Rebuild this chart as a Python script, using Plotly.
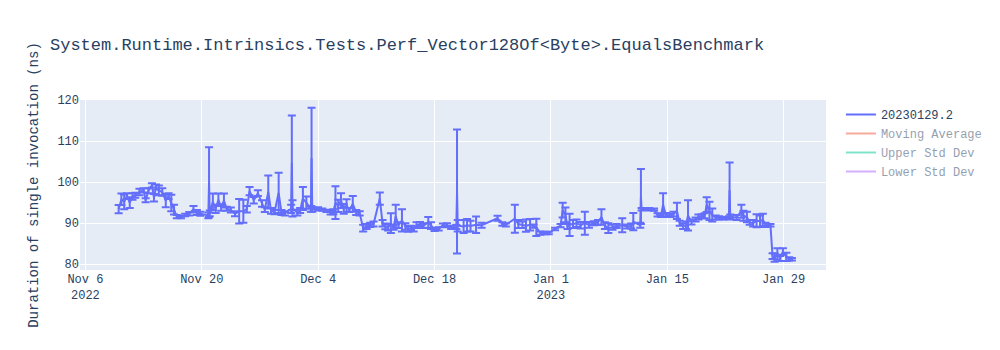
import pandas as pd
import plotly.graph_objects as go

# Benchmark runs: timestamp, mean duration (ns), standard deviation (ns)
run_dates = [
    "2022-11-10 00:00", "2022-11-10 08:00", "2022-11-10 16:00",
    "2022-11-11 00:00", "2022-11-11 08:00", "2022-11-11 16:00",
    "2022-11-12 00:00", "2022-11-12 12:00",
    "2022-11-13 00:00", "2022-11-13 06:00", "2022-11-13 14:00",
    "2022-11-14 00:00", "2022-11-14 06:00", "2022-11-14 12:00", "2022-11-14 20:00",
    "2022-11-15 06:00", "2022-11-15 16:00",
    "2022-11-16 00:00", "2022-11-16 08:00", "2022-11-16 16:00",
    "2022-11-17 00:00", "2022-11-17 12:00",
    "2022-11-18 00:00", "2022-11-18 12:00",
    "2022-11-19 00:00", "2022-11-19 10:00", "2022-11-19 20:00",
    "2022-11-20 19:00", "2022-11-20 21:00",
    "2022-11-20 23:00", "2022-11-21 08:00", "2022-11-21 16:00",
    "2022-11-22 00:00", "2022-11-22 08:00", "2022-11-22 16:00",
    "2022-11-23 00:00", "2022-11-23 12:00",
    "2022-11-24 00:00", "2022-11-24 12:00",
    "2022-11-25 00:00", "2022-11-25 10:00", "2022-11-25 18:00",
    "2022-11-26 06:00", "2022-11-26 18:00",
    "2022-11-27 06:00", "2022-11-27 14:00",
    "2022-11-28 00:00", "2022-11-28 08:00", "2022-11-28 18:00",
    "2022-11-29 06:00", "2022-11-29 14:00",
    "2022-11-30 00:00", "2022-11-30 18:00", "2022-11-30 20:00",
    "2022-11-30 22:00", "2022-12-01 12:00", "2022-12-01 20:00",
    "2022-12-02 04:00", "2022-12-02 14:00", "2022-12-03 03:00",
    "2022-12-03 05:00", "2022-12-03 07:00",
    "2022-12-04 00:00", "2022-12-04 12:00",
    "2022-12-05 00:00", "2022-12-05 12:00", "2022-12-05 20:00",
    "2022-12-06 02:00", "2022-12-06 10:00", "2022-12-06 18:00",
    "2022-12-07 02:00", "2022-12-07 10:00", "2022-12-07 18:00",
    "2022-12-08 04:00", "2022-12-08 14:00",
    "2022-12-09 00:00", "2022-12-09 10:00", "2022-12-09 20:00",
    "2022-12-10 06:00", "2022-12-10 16:00",
    "2022-12-11 10:00", "2022-12-11 18:00",
    "2022-12-12 02:00", "2022-12-12 10:00", "2022-12-12 18:00",
    "2022-12-13 02:00", "2022-12-13 08:00", "2022-12-13 16:00",
    "2022-12-14 02:00", "2022-12-14 12:00", "2022-12-14 20:00",
    "2022-12-15 04:00", "2022-12-15 12:00", "2022-12-15 20:00",
    "2022-12-16 06:00", "2022-12-16 16:00",
    "2022-12-17 06:00", "2022-12-17 14:00",
    "2022-12-18 00:00", "2022-12-18 12:00",
    "2022-12-19 00:00", "2022-12-19 12:00",
    "2022-12-20 00:00", "2022-12-20 15:00", "2022-12-20 17:00",
    "2022-12-20 19:00", "2022-12-21 12:00", "2022-12-21 22:00",
    "2022-12-22 08:00",
    "2022-12-23 00:00", "2022-12-23 16:00",
    "2022-12-25 14:00",
    "2022-12-26 04:00", "2022-12-26 14:00",
    "2022-12-27 16:00",
    "2022-12-28 02:00", "2022-12-28 14:00",
    "2022-12-29 00:00", "2022-12-29 12:00", "2022-12-29 22:00",
    "2022-12-30 06:00", "2022-12-30 18:00",
    "2022-12-31 08:00", "2022-12-31 18:00",
    "2023-01-01 12:00",
    "2023-01-02 04:00", "2023-01-02 10:00", "2023-01-02 18:00",
    "2023-01-03 00:00", "2023-01-03 06:00", "2023-01-03 16:00",
    "2023-01-04 02:00", "2023-01-04 14:00",
    "2023-01-05 02:00", "2023-01-05 14:00",
    "2023-01-06 04:00", "2023-01-06 16:00",
    "2023-01-07 02:00", "2023-01-07 12:00", "2023-01-07 22:00",
    "2023-01-08 10:00", "2023-01-08 22:00",
    "2023-01-09 14:00",
    "2023-01-10 04:00", "2023-01-10 16:00", "2023-01-10 22:00",
    "2023-01-11 18:00", "2023-01-11 20:00",
    "2023-01-11 22:00", "2023-01-12 20:00",
    "2023-01-13 10:00", "2023-01-13 20:00",
    "2023-01-14 06:00", "2023-01-14 12:00", "2023-01-14 20:00",
    "2023-01-15 08:00", "2023-01-15 18:00",
    "2023-01-16 04:00", "2023-01-16 12:00", "2023-01-16 22:00",
    "2023-01-17 06:00", "2023-01-17 12:00", "2023-01-17 22:00",
    "2023-01-18 10:00", "2023-01-18 18:00",
    "2023-01-19 04:00", "2023-01-19 12:00", "2023-01-19 18:00",
    "2023-01-20 02:00", "2023-01-20 10:00", "2023-01-20 20:00",
    "2023-01-21 06:00", "2023-01-21 18:00",
    "2023-01-22 10:00", "2023-01-22 12:00", "2023-01-22 14:00",
    "2023-01-23 08:00", "2023-01-23 22:00",
    "2023-01-24 04:00", "2023-01-24 14:00", "2023-01-24 22:00",
    "2023-01-25 08:00", "2023-01-25 18:00",
    "2023-01-26 04:00", "2023-01-26 12:00", "2023-01-26 20:00",
    "2023-01-27 10:00", "2023-01-27 16:00", "2023-01-27 22:00",
    "2023-01-28 06:00", "2023-01-28 14:00", "2023-01-28 22:00",
    "2023-01-29 08:00", "2023-01-29 16:00",
    "2023-01-30 00:00",
]

mean_ns = [
    93.4, 95.8, 95.2,
    96.6, 95.0, 96.5,
    96.8, 97.6,
    98.0, 95.6, 97.9,
    99.2, 96.2, 98.8, 98.0,
    97.6, 95.5,
    96.6, 94.9, 93.3,
    91.6, 91.5,
    92.0, 92.3,
    93.4, 92.6, 92.3,
    91.9, 100.0,
    92.4, 95.2, 93.5,
    95.7, 93.8, 95.5,
    93.5, 93.2,
    92.3, 92.9,
    92.9, 93.4, 97.8,
    95.6, 97.3,
    94.8, 93.3,
    97.6, 93.0, 92.7,
    97.4, 92.6,
    92.4, 93.5, 104.7,
    93.6, 92.6, 93.1,
    96.0, 95.0, 93.5,
    105.9, 93.4,
    93.5, 93.3,
    93.0, 92.6, 92.8,
    95.0, 94.2, 95.5,
    93.5, 94.3, 93.2,
    94.7, 92.6,
    92.4, 88.8, 89.2,
    89.6, 89.8,
    96.0, 90.0,
    89.2, 89.0, 90.0,
    89.0, 91.7, 89.5,
    90.7, 89.2, 88.6,
    88.8, 88.5, 89.5,
    89.8, 89.4,
    90.2, 89.4,
    88.5, 88.6,
    89.5, 89.5,
    89.0, 89.1, 97.7,
    89.4, 89.2, 89.5,
    89.3,
    89.6, 89.5,
    91.2,
    89.8, 89.6,
    91.1,
    89.8, 89.6,
    89.4, 89.6, 89.3,
    89.0, 87.6,
    87.6, 87.6,
    88.6,
    89.4, 93.2, 92.0,
    89.2, 89.6, 89.8,
    90.0, 89.5,
    90.0, 89.6,
    90.0, 90.2,
    91.5, 89.4, 88.8,
    89.0, 89.3,
    89.5,
    89.2, 89.3, 90.4,
    89.5, 96.5,
    93.4, 93.4,
    93.3, 92.0,
    91.9, 94.5, 92.0,
    91.9, 92.2,
    93.0, 90.0, 89.3,
    89.5, 91.9, 90.3,
    90.9, 91.5,
    91.7, 91.8, 94.5,
    93.0, 92.0, 91.4,
    91.3, 91.2,
    91.3, 98.0, 91.6,
    91.4, 92.9,
    91.8, 91.5, 90.2,
    90.0, 90.6,
    90.5, 90.8, 89.6,
    89.5, 82.0, 81.6,
    82.5, 81.4, 83.1,
    81.8, 81.3,
    81.2,
]

std_ns = [
    1.0, 1.4, 1.8,
    0.7, 1.3, 0.8,
    0.6, 0.8,
    0.5, 0.5, 0.6,
    0.5, 0.9, 0.6, 1.2,
    0.9, 1.6,
    0.7, 2.0, 1.2,
    0.4, 0.3,
    0.3, 0.4,
    0.8, 0.6, 0.5,
    0.7, 8.5,
    0.7, 2.0, 1.0,
    1.5, 0.8, 1.7,
    0.5, 0.6,
    0.6, 3.0,
    2.8, 0.8, 1.0,
    0.8, 0.7,
    0.8, 0.6,
    4.0, 0.7, 0.5,
    4.9, 0.6,
    0.5, 1.0, 11.5,
    2.0, 0.7, 0.6,
    2.8, 1.5, 0.7,
    12.2, 0.6,
    0.4, 0.3,
    0.3, 0.5, 0.6,
    4.0, 1.5, 1.8,
    1.2, 1.5, 0.5,
    1.9, 0.6,
    0.5, 0.8, 0.6,
    0.5, 0.6,
    1.5, 0.8,
    0.7, 0.8, 2.4,
    0.6, 2.8, 0.7,
    2.7, 0.8, 0.7,
    0.6, 0.5, 0.7,
    0.5, 0.6,
    1.3, 0.8,
    0.4, 0.4,
    0.4, 0.5,
    0.4, 0.5, 15.1,
    1.4, 1.6, 1.5,
    1.3,
    2.0, 0.6,
    0.6,
    0.4, 0.4,
    3.4,
    1.0, 0.8,
    1.5, 1.4, 0.4,
    2.1, 0.4,
    0.3, 0.3,
    0.3,
    0.4, 1.8, 1.8,
    0.6, 2.7, 1.0,
    0.9, 0.8,
    2.8, 0.7,
    0.5, 0.6,
    1.9, 0.8, 1.2,
    0.6, 0.5,
    1.7,
    0.5, 0.6, 2.1,
    0.6, 6.7,
    0.3, 0.3,
    0.3, 0.4,
    0.4, 2.8, 0.5,
    0.4, 0.6,
    2.0, 0.6, 0.7,
    0.9, 3.7, 0.6,
    0.5, 0.6,
    0.5, 0.6, 1.8,
    2.2, 1.6, 0.5,
    0.4, 0.3,
    0.4, 6.8, 0.5,
    0.6, 1.6,
    1.2, 1.3, 0.6,
    0.8, 1.6,
    1.4, 1.5, 0.5,
    0.3, 0.7, 1.0,
    1.4, 0.6, 0.8,
    1.0, 0.4,
    0.3,
]

build_name = "20230129.2"
window = 10

# Rolling statistics of the per-run means (toggleable overlays)
means = pd.Series(mean_ns)
moving_avg = means.rolling(window, min_periods=1).mean()
moving_std = means.rolling(window, min_periods=1).std().fillna(0)
overlays = [
    ("Moving Average", moving_avg),
    ("Upper Std Dev", moving_avg + moving_std),
    ("Lower Std Dev", moving_avg - moving_std),
]

fig = go.Figure()
fig.add_trace(go.Scatter(
    x=run_dates,
    y=mean_ns,
    mode="lines",
    name=build_name,
    error_y=dict(type="data", array=std_ns, visible=True),
))
for name, series in overlays:
    fig.add_trace(go.Scatter(x=run_dates, y=series.tolist(), mode="lines",
                             name=name, visible="legendonly"))

fig.update_layout(
    width=1000,
    height=350,
    template="plotly",
    showlegend=True,
    font=dict(family="Liberation Mono, Courier New, monospace"),
    title=dict(text="System.Runtime.Intrinsics.Tests.Perf_Vector128Of<Byte>.EqualsBenchmark"),
    yaxis=dict(title=dict(text="Duration of single invocation (ns)"), range=[78.6, 120.0]),
    xaxis=dict(range=["2022-11-05 08:24", "2023-02-03 02:24"],
               dtick=14 * 86400000, tick0="2022-11-06"),
    margin=dict(l=80, r=174, t=100, b=80),
)

fig.write_html("out.html")
